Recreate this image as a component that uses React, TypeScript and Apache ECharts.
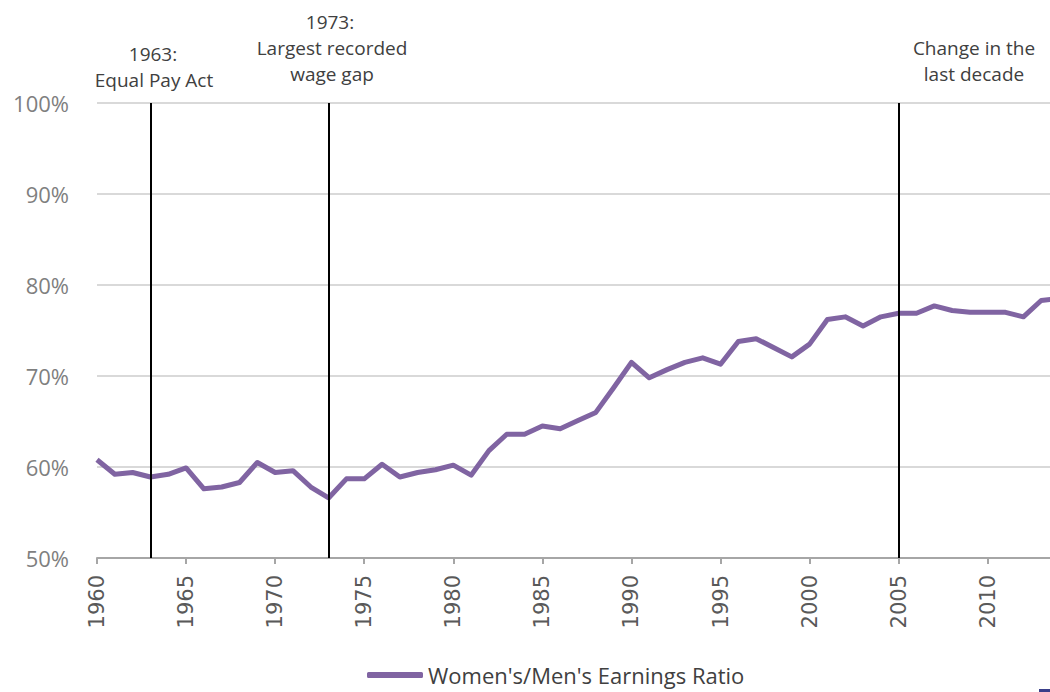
import React, { useEffect, useRef } from "react";
import * as echarts from "echarts";

const years: string[] = [
  "1960","1961","1962","1963","1964","1965","1966","1967","1968","1969",
  "1970","1971","1972","1973","1974","1975","1976","1977","1978","1979",
  "1980","1981","1982","1983","1984","1985","1986","1987","1988","1989",
  "1990","1991","1992","1993","1994","1995","1996","1997","1998","1999",
  "2000","2001","2002","2003","2004","2005","2006","2007","2008","2009",
  "2010","2011","2012","2013","2014",
];

const earningsRatio: number[] = [
  60.8, 59.2, 59.4, 58.9, 59.2, 59.9, 57.6, 57.8, 58.3, 60.5,
  59.4, 59.6, 57.8, 56.6, 58.7, 58.7, 60.3, 58.9, 59.4, 59.7,
  60.2, 59.1, 61.8, 63.6, 63.6, 64.5, 64.2, 65.1, 66.0, 68.7,
  71.5, 69.8, 70.7, 71.5, 72.0, 71.3, 73.8, 74.1, 73.1, 72.1,
  73.5, 76.2, 76.5, 75.5, 76.5, 76.9, 76.9, 77.7, 77.2, 77.0,
  77.0, 77.0, 76.5, 78.3, 78.5,
];

const eventYears: string[] = ["1963", "1973", "2005"];
const seriesName = "Women's/Men's Earnings Ratio";

export default function App() {
  const ref = useRef<HTMLDivElement>(null);
  useEffect(() => {
    if (!ref.current) return;
    const chart = echarts.init(ref.current, undefined, { renderer: "svg" });
    const font = "Open Sans, Noto Sans, sans-serif";
    const annColor = "#404040";
    const annSize = 19;
    const ann = (text: string, x: number, y: number) => ({
      type: "text",
      x,
      y,
      style: {
        text,
        fill: annColor,
        fontSize: annSize,
        fontFamily: font,
        align: "center",
        verticalAlign: "middle",
      },
    });
    chart.setOption({
      animation: false,
      backgroundColor: "#ffffff",
      grid: { left: 97, top: 103, bottom: 134, right: 1, containLabel: false },
      xAxis: {
        type: "category",
        data: years,
        boundaryGap: false,
        axisLine: { show: true, lineStyle: { color: "#a6a6a6", width: 2 } },
        axisTick: { show: true, interval: 4, length: 6, lineStyle: { color: "#a6a6a6", width: 2 } },
        axisLabel: {
          interval: 4,
          rotate: 90,
          color: "#595959",
          fontSize: 21,
          fontFamily: "DejaVu Sans, sans-serif",
          margin: 17,
        },
        splitLine: { show: false },
      },
      yAxis: {
        type: "value",
        min: 50,
        max: 100,
        interval: 10,
        axisLine: { show: false },
        axisTick: { show: false },
        axisLabel: {
          formatter: "{value}%",
          color: "#7f7f7f",
          fontSize: 22,
          fontFamily: font,
          margin: 28,
        },
        splitLine: { show: true, lineStyle: { color: "#d9d9d9", width: 2 } },
      },
      legend: {
        show: true,
        left: 367,
        top: 664,
        padding: 0,
        icon: "roundRect",
        itemWidth: 56,
        itemHeight: 6,
        itemGap: 10,
        textStyle: { color: "#404040", fontSize: 22, fontFamily: font, padding: [0, 0, 0, 0] },
        data: [seriesName],
      },
      series: [
        {
          name: seriesName,
          type: "line",
          data: earningsRatio,
          showSymbol: false,
          symbol: "none",
          itemStyle: { color: "#8064a2" },
          lineStyle: { color: "#8064a2", width: 5, join: "round" },
          markLine: {
            silent: true,
            symbol: ["none", "none"],
            label: { show: false },
            lineStyle: { color: "#000000", width: 2, type: "solid" },
            data: eventYears.map((y) => ({ xAxis: y })),
          },
        },
      ],
      graphic: [
        ann("1963:", 153, 54),
        ann("Equal Pay Act", 154, 80),
        ann("1973:", 330, 22),
        ann("Largest recorded", 332, 48),
        ann("wage gap", 332, 74),
        ann("Change in the", 974, 48),
        ann("last decade", 974, 74),
        { type: "rect", shape: { x: 1039, y: 689, width: 11, height: 3 }, style: { fill: "#3a3f8a" } },
      ],
    });
    return () => chart.dispose();
  }, []);
  return (
    <div style={{ position: "fixed", left: 0, top: 0, width: 1050, height: 692, overflow: "hidden" }}>
      <div ref={ref} style={{ position: "absolute", left: 0, top: 0, width: 1060, height: 692 }} />
    </div>
  );
}
